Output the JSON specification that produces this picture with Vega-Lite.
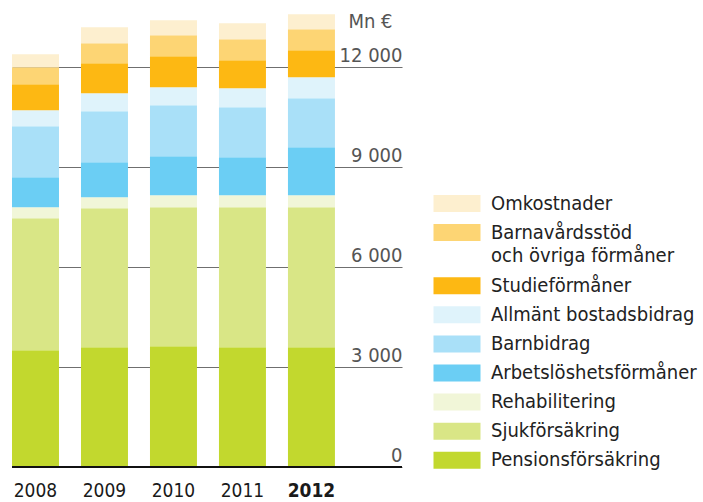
{
  "$schema": "https://vega.github.io/schema/vega-lite/v6.json",
  "autosize": {"type": "none"},
  "padding": {"left": 12, "top": 1, "right": 301, "bottom": 35},
  "width": 390,
  "height": 466,
  "background": "white",
  "config": {
    "view": {"stroke": null},
    "font": "DejaVu Sans Condensed, Liberation Sans Narrow, Roboto, sans-serif",
    "style": {"guide-label": {"lineHeight": 23.5}}
  },
  "data": {"values": [
    {"year": "2008", "cat": "Pensionsförsäkring", "o": 1, "value": 3500},
    {"year": "2008", "cat": "Sjukförsäkring", "o": 2, "value": 3960},
    {"year": "2008", "cat": "Rehabilitering", "o": 3, "value": 330},
    {"year": "2008", "cat": "Arbetslöshetsförmåner", "o": 4, "value": 900},
    {"year": "2008", "cat": "Barnbidrag", "o": 5, "value": 1530},
    {"year": "2008", "cat": "Allmänt bostadsbidrag", "o": 6, "value": 480},
    {"year": "2008", "cat": "Studieförmåner", "o": 7, "value": 780},
    {"year": "2008", "cat": "Barnavårdsstöd och övriga förmåner", "o": 8, "value": 510},
    {"year": "2008", "cat": "Omkostnader", "o": 9, "value": 390},
    {"year": "2009", "cat": "Pensionsförsäkring", "o": 1, "value": 3590},
    {"year": "2009", "cat": "Sjukförsäkring", "o": 2, "value": 4170},
    {"year": "2009", "cat": "Rehabilitering", "o": 3, "value": 330},
    {"year": "2009", "cat": "Arbetslöshetsförmåner", "o": 4, "value": 1050},
    {"year": "2009", "cat": "Barnbidrag", "o": 5, "value": 1530},
    {"year": "2009", "cat": "Allmänt bostadsbidrag", "o": 6, "value": 540},
    {"year": "2009", "cat": "Studieförmåner", "o": 7, "value": 900},
    {"year": "2009", "cat": "Barnavårdsstöd och övriga förmåner", "o": 8, "value": 600},
    {"year": "2009", "cat": "Omkostnader", "o": 9, "value": 480},
    {"year": "2010", "cat": "Pensionsförsäkring", "o": 1, "value": 3620},
    {"year": "2010", "cat": "Sjukförsäkring", "o": 2, "value": 4170},
    {"year": "2010", "cat": "Rehabilitering", "o": 3, "value": 360},
    {"year": "2010", "cat": "Arbetslöshetsförmåner", "o": 4, "value": 1170},
    {"year": "2010", "cat": "Barnbidrag", "o": 5, "value": 1530},
    {"year": "2010", "cat": "Allmänt bostadsbidrag", "o": 6, "value": 540},
    {"year": "2010", "cat": "Studieförmåner", "o": 7, "value": 930},
    {"year": "2010", "cat": "Barnavårdsstöd och övriga förmåner", "o": 8, "value": 630},
    {"year": "2010", "cat": "Omkostnader", "o": 9, "value": 450},
    {"year": "2011", "cat": "Pensionsförsäkring", "o": 1, "value": 3590},
    {"year": "2011", "cat": "Sjukförsäkring", "o": 2, "value": 4200},
    {"year": "2011", "cat": "Rehabilitering", "o": 3, "value": 360},
    {"year": "2011", "cat": "Arbetslöshetsförmåner", "o": 4, "value": 1140},
    {"year": "2011", "cat": "Barnbidrag", "o": 5, "value": 1500},
    {"year": "2011", "cat": "Allmänt bostadsbidrag", "o": 6, "value": 570},
    {"year": "2011", "cat": "Studieförmåner", "o": 7, "value": 840},
    {"year": "2011", "cat": "Barnavårdsstöd och övriga förmåner", "o": 8, "value": 630},
    {"year": "2011", "cat": "Omkostnader", "o": 9, "value": 480},
    {"year": "2012", "cat": "Pensionsförsäkring", "o": 1, "value": 3590},
    {"year": "2012", "cat": "Sjukförsäkring", "o": 2, "value": 4200},
    {"year": "2012", "cat": "Rehabilitering", "o": 3, "value": 360},
    {"year": "2012", "cat": "Arbetslöshetsförmåner", "o": 4, "value": 1440},
    {"year": "2012", "cat": "Barnbidrag", "o": 5, "value": 1470},
    {"year": "2012", "cat": "Allmänt bostadsbidrag", "o": 6, "value": 630},
    {"year": "2012", "cat": "Studieförmåner", "o": 7, "value": 810},
    {"year": "2012", "cat": "Barnavårdsstöd och övriga förmåner", "o": 8, "value": 630},
    {"year": "2012", "cat": "Omkostnader", "o": 9, "value": 450}
  ]},
  "layer": [
    {
      "mark": {"type": "bar"},
      "encoding": {
        "x": {
          "field": "year", "type": "ordinal",
          "scale": {"paddingInner": 0.319, "paddingOuter": 0.486, "align": 0},
          "axis": {
            "title": null, "labelAngle": 0, "domain": false, "ticks": false,
            "labelPadding": 14, "labelFontSize": 19, "labelColor": "#1a1a1a",
            "labelFontWeight": {"condition": {"test": "datum.value == '2012'", "value": "bold"}, "value": "normal"}
          }
        },
        "y": {
          "field": "value", "type": "quantitative", "stack": "zero",
          "scale": {"domain": [0, 13980], "nice": false},
          "axis": {
            "orient": "right", "values": [0, 3000, 6000, 9000, 12000],
            "domain": false, "ticks": false, "grid": true,
            "gridColor": "#6f6f6f", "gridWidth": 1.2,
            "labelAlign": "right", "labelBaseline": "alphabetic",
            "labelPadding": 0, "labelOffset": -6, "labelFontSize": 20, "labelColor": "#555555",
            "labelExpr": "replace(format(datum.value, ','), ',', ' ')",
            "title": "Mn €", "titleAngle": 0, "titleAlign": "right", "titleBaseline": "alphabetic",
            "titleX": -10, "titleY": 26, "titleFontSize": 20, "titleFontWeight": "normal", "titleColor": "#555555"
          }
        },
        "color": {
          "field": "cat", "type": "nominal",
          "scale": {
            "domain": ["Omkostnader", "Barnavårdsstöd och övriga förmåner", "Studieförmåner", "Allmänt bostadsbidrag", "Barnbidrag", "Arbetslöshetsförmåner", "Rehabilitering", "Sjukförsäkring", "Pensionsförsäkring"],
            "range": ["#FDEFCF", "#FDD574", "#FDB813", "#DFF3FB", "#A9E0F8", "#6BCEF4", "#F1F6D8", "#D9E686", "#C2D82E"]
          },
          "legend": {
            "orient": "none", "legendX": 435, "legendY": 192.5, "title": null,
            "symbolType": "M-2.765,-1H2.765V1H-2.765Z", "symbolSize": 289,
            "symbolStrokeWidth": 0, "symbolOpacity": 1,
            "labelFontSize": 20, "labelColor": "#222222", "labelOffset": 24,
            "rowPadding": 9.1, "labelLimit": 300, "labelBaseline": "top",
            "labelExpr": "datum.label == 'Barnavårdsstöd och övriga förmåner' ? ['Barnavårdsstöd', 'och övriga förmåner'] : datum.label",
            "encode": {"labels": {"update": {"dy": {"value": -10}}}}
          }
        },
        "order": {"field": "o", "type": "quantitative"}
      }
    },
    {
      "data": {"values": [{}]},
      "mark": {"type": "rule", "color": "#111111", "strokeWidth": 2.2},
      "encoding": {"y": {"datum": 0, "type": "quantitative"}}
    }
  ]
}
